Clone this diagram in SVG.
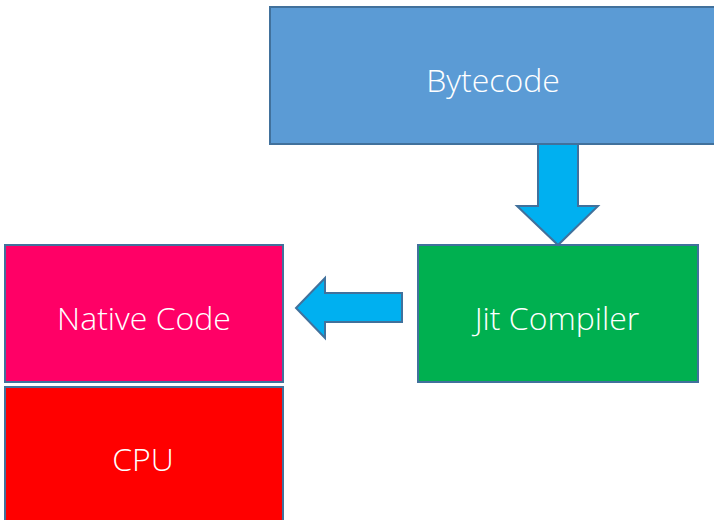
<svg xmlns="http://www.w3.org/2000/svg" width="714" height="520" viewBox="0 0 714 520">
<style>
.box{stroke:#41719C;stroke-width:2}
.arrow{fill:#00B0F0;stroke:#41719C;stroke-width:2;stroke-linejoin:miter}
.lbl{font-family:"Open Sans","Liberation Sans",sans-serif;font-weight:300;font-size:32px;fill:#FFFFFF;text-anchor:middle;dominant-baseline:central}
</style>
<rect width="714" height="520" fill="#FFFFFF"/>
<g id="bytecode">
<rect class="box" x="270" y="7" width="446" height="137" fill="#5B9BD5"/>
<text class="lbl" x="493" y="79">Bytecode</text>
</g>
<g id="jit">
<rect class="box" x="418" y="245" width="280" height="137" fill="#00B050"/>
<text class="lbl" x="557" y="317">Jit Compiler</text>
</g>
<g id="native">
<rect class="box" x="5" y="245" width="278" height="137" fill="#FF0066"/>
<text class="lbl" x="144" y="317">Native Code</text>
</g>
<g id="cpu">
<rect class="box" x="5" y="387" width="278" height="140" fill="#FF0000"/>
<text class="lbl" x="143" y="458">CPU</text>
</g>
<g id="connectors">
<polygon class="arrow" points="538,144 578,144 578,206 598,206 558,245 517,206 538,206"/>
<polygon class="arrow" points="402,293 325,293 325,278 296,308 325,338 325,322 402,322"/>
</g>
</svg>
